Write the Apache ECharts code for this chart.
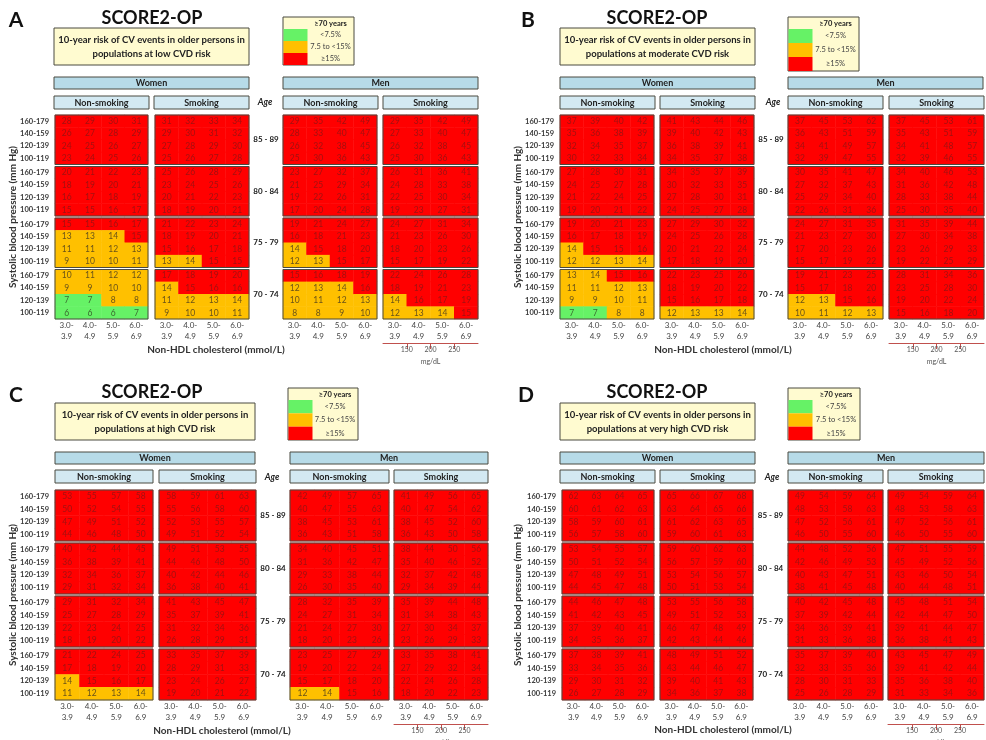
<!DOCTYPE html>
<html><head><meta charset="utf-8">
<script src="https://cdn.jsdelivr.net/npm/echarts@6/dist/echarts.min.js"></script>
<style>html,body{margin:0;padding:0;background:#fff}#c{width:986px;height:740px}</style>
</head><body><div id="c"></div>
<script>
// ---------- tick labels / categories ----------
const bpLabels = ['100-119','120-139','140-159','160-179'];           // bottom -> top
const cholLabels = ['3.0-\n3.9','4.0-\n4.9','5.0-\n5.9','6.0-\n6.9'];
const ageGroups = ['85 - 89','80 - 84','75 - 79','70 - 74'];
const mgdlTicks = [150, 200, 250];
const groupNames = ['Non-smoking','Smoking','Non-smoking','Smoking'];
const riskNames = ['low CVD risk','moderate CVD risk','high CVD risk','very high CVD risk'];
const panelLetters = ['A','B','C','D'];

// ---------- data (rows top->bottom: 85-89 [160-179..100-119], 80-84, 75-79, 70-74) ----------
const lowWomenNS = [[28,29,30,31],[26,27,28,29],[24,25,26,27],[23,24,25,26],
  [20,21,22,23],[18,19,20,21],[16,17,18,19],[15,15,16,17],
  [15,15,16,17],[13,13,14,15],[11,11,12,13],[9,10,10,11],
  [10,11,12,12],[9,9,10,10],[7,7,8,8],[6,6,6,7]];
const lowWomenS = [[31,32,33,34],[29,30,31,32],[27,28,29,30],[25,26,27,28],
  [25,26,28,29],[23,24,25,26],[20,21,22,23],[18,19,20,21],
  [21,22,23,24],[18,19,20,21],[15,16,17,18],[13,14,15,15],
  [17,18,19,20],[14,15,16,16],[11,12,13,14],[9,10,10,11]];
const lowMenNS = [[29,35,42,49],[28,33,40,47],[26,32,38,45],[25,30,36,43],
  [23,27,32,37],[21,25,29,34],[19,22,26,31],[17,20,24,28],
  [19,21,24,27],[16,18,21,23],[14,15,18,20],[12,13,15,17],
  [15,16,18,19],[12,13,14,16],[10,11,12,13],[8,8,9,10]];
const lowMenS = [[29,35,42,49],[27,33,40,47],[26,32,38,45],[25,30,36,43],
  [26,31,36,41],[24,28,33,38],[22,25,30,34],[19,23,27,31],
  [24,27,31,34],[21,23,26,30],[18,20,23,26],[15,17,19,22],
  [22,24,26,28],[18,19,21,23],[14,16,17,19],[12,13,14,15]];

const modWomenNS = [[37,39,40,42],[35,36,38,39],[32,34,35,37],[30,32,33,34],
  [27,28,30,31],[24,25,27,28],[21,22,24,25],[19,20,21,22],
  [19,20,21,23],[16,17,18,19],[14,15,15,16],[12,12,13,14],
  [13,14,15,16],[11,11,12,13],[9,9,10,11],[7,7,8,8]];
const modWomenS = [[41,43,44,46],[39,40,42,43],[36,38,39,41],[34,35,37,38],
  [34,35,37,39],[30,32,33,35],[27,28,30,31],[24,25,27,28],
  [27,29,30,32],[24,25,26,28],[20,21,22,24],[17,18,19,20],
  [22,23,25,26],[18,19,20,22],[15,16,17,18],[12,13,13,14]];
const modMenNS = [[37,45,53,62],[36,43,51,59],[34,41,49,57],[32,39,47,55],
  [30,35,41,47],[27,32,37,43],[25,29,34,40],[22,26,31,36],
  [24,27,31,35],[21,23,27,30],[17,20,23,26],[15,17,19,22],
  [19,21,23,25],[15,17,18,20],[12,13,15,16],[10,11,12,13]];
const modMenS = [[37,45,53,61],[35,43,51,59],[34,41,48,57],[32,39,46,55],
  [34,40,46,53],[31,36,42,48],[28,33,38,44],[25,30,35,40],
  [31,35,39,44],[27,30,34,38],[23,26,29,33],[19,22,25,29],
  [28,31,34,36],[23,25,28,30],[19,20,22,24],[15,16,18,20]];

const highWomenNS = [[53,55,57,58],[50,52,54,55],[47,49,51,52],[44,46,48,50],
  [40,42,44,45],[36,38,39,41],[32,34,36,37],[29,31,32,34],
  [29,31,32,34],[25,27,28,29],[22,23,24,25],[18,19,20,22],
  [21,22,24,25],[17,18,19,20],[14,15,16,17],[11,12,13,14]];
const highWomenS = [[58,59,61,63],[55,56,58,60],[52,53,55,57],[49,51,52,54],
  [49,51,53,55],[44,46,48,50],[40,42,44,46],[36,38,40,41],
  [41,43,45,47],[35,37,39,41],[31,32,34,36],[26,28,29,31],
  [33,35,37,39],[28,29,31,33],[23,24,26,27],[19,20,21,22]];
const highMenNS = [[42,49,57,65],[40,47,55,63],[38,45,53,61],[36,43,51,58],
  [34,40,45,51],[31,36,42,47],[29,33,38,44],[26,30,35,40],
  [28,32,35,39],[24,27,31,34],[21,24,27,30],[18,20,23,26],
  [23,25,27,29],[19,20,22,24],[15,17,18,20],[12,14,15,16]];
const highMenS = [[41,49,56,65],[40,47,54,62],[38,45,52,60],[36,43,50,58],
  [38,44,50,56],[35,40,46,52],[32,37,42,48],[29,34,39,44],
  [35,39,44,48],[31,34,38,43],[27,30,34,37],[23,26,29,33],
  [33,35,38,41],[27,29,32,34],[22,24,26,28],[18,20,22,23]];

const vhighWomenNS = [[62,63,64,65],[60,61,62,63],[58,59,60,61],[56,57,58,60],
  [53,54,55,57],[50,51,52,54],[47,48,49,51],[44,45,47,48],
  [44,46,47,48],[41,42,43,45],[37,39,40,41],[34,35,36,37],
  [37,38,39,41],[33,34,35,36],[29,30,31,32],[26,27,28,29]];
const vhighWomenS = [[65,66,67,68],[63,64,65,66],[61,62,63,65],[59,60,61,63],
  [59,60,62,63],[56,57,59,60],[53,54,56,57],[50,51,53,54],
  [53,55,56,58],[49,51,52,53],[46,47,48,49],[42,43,44,46],
  [48,49,51,52],[43,44,46,47],[39,40,41,43],[34,36,37,38]];
const vhighMenNS = [[49,54,59,64],[48,53,58,63],[47,52,56,61],[46,50,55,60],
  [44,48,52,56],[42,46,49,53],[40,43,47,51],[38,41,45,48],
  [40,42,45,48],[37,39,42,44],[34,36,39,41],[31,33,36,38],
  [35,37,39,40],[32,33,35,36],[28,30,31,33],[25,26,28,29]];
const vhighMenS = [[49,54,59,64],[48,53,58,63],[47,52,56,61],[46,50,55,60],
  [47,51,55,59],[45,49,52,56],[43,46,50,54],[40,44,48,51],
  [45,48,51,54],[42,44,47,50],[39,41,44,47],[36,38,41,43],
  [43,45,47,49],[39,41,42,44],[35,36,38,40],[31,33,34,36]];

const panelData = [
  [lowWomenNS, lowWomenS, lowMenNS, lowMenS],
  [modWomenNS, modWomenS, modMenNS, modMenS],
  [highWomenNS, highWomenS, highMenNS, highMenS],
  [vhighWomenNS, vhighWomenS, vhighMenNS, vhighMenS]
];

// ---------- layout (pixels) ----------
const layouts = [
  { letterXY:[16,20], titleXY:[152,18], subBox:[54,28,195,37], legendBox:[283,17,71,48],
    womenBar:[54,77,195,12], menBar:[283,77,195,12],
    subBars:[[54,96,95,13],[154,96,95,13],[283,96,95,13],[383,96,95,13]], ageXY:[265,102],
    gridX:[[55,148],[155,249],[283,377],[383,478]], gridY:[115,319], yTitleX:13, xTitleXY:[216,350], mgY:343 },
  { letterXY:[528,20], titleXY:[657,18], subBox:[560,28,195,37], legendBox:[788,17,71,54],
    womenBar:[560,77,195,12], menBar:[788,77,195,12],
    subBars:[[560,96,95,13],[660,96,95,13],[788,96,95,13],[889,96,95,13]], ageXY:[773,102],
    gridX:[[560,654],[660,754],[788,883],[889,984]], gridY:[115,319], yTitleX:518, xTitleXY:[723,350], mgY:343 },
  { letterXY:[16,395], titleXY:[152,392], subBox:[55,403,200,37], legendBox:[288,388,70,52],
    womenBar:[55,452,200,12], menBar:[290,452,198,12],
    subBars:[[55,470,98,13],[159,470,97,13],[290,470,99,13],[394,470,94,13]], ageXY:[272,477],
    gridX:[[55,153],[159,256],[290,389],[394,488]], gridY:[490,700], yTitleX:13, xTitleXY:[222,731], mgY:724 },
  { letterXY:[526,395], titleXY:[657,392], subBox:[560,403,195,37], legendBox:[788,388,72,52],
    womenBar:[560,452,195,12], menBar:[788,452,196,12],
    subBars:[[560,470,95,13],[660,470,95,13],[788,470,95,13],[888,470,96,13]], ageXY:[772,477],
    gridX:[[562,654],[660,753],[788,883],[888,984]], gridY:[490,700], yTitleX:518, xTitleXY:[723,730], mgY:724 }
];

// ---------- styles ----------
const FONT = 'Lato, "Open Sans", "DejaVu Sans", sans-serif';
const RED = '#ff0000', ORANGE = '#ffc000', GREEN = '#66f266';
const TXT_RED = '#a31010', TXT_OR = '#6b5418', TXT_GR = '#3b6b30';
const BORDER = '#4a4a40';
const YELLOW = '#fffbd0', BLUE1 = '#b7dbe8', BLUE2 = '#d3e9f2';
const MG_RED = '#c0504d';

const grids = [], xAxes = [], yAxes = [], series = [], gfx = [];
function txt(x, y, text, font, fill, align, extra) {
  return Object.assign({ type:'text', x, y, z:100, silent:true,
    style:{ text, font, fill: fill || '#000', align: align || 'center', verticalAlign:'middle' } }, extra || {});
}
function rect(x, y, w, h, fill, stroke) {
  return { type:'rect', z:90, silent:true, shape:{x, y, width:w, height:h},
    style:{ fill, stroke: stroke || BORDER, lineWidth:1 } };
}

layouts.forEach((L, pi) => {
  gfx.push(txt(L.letterXY[0], L.letterXY[1], panelLetters[pi], 'bold 21px ' + FONT, '#111'));
  gfx.push(txt(L.titleXY[0], L.titleXY[1], 'SCORE2-OP', 'bold 18px ' + FONT, '#111'));
  const sb = L.subBox;
  gfx.push(rect(sb[0], sb[1], sb[2], sb[3], YELLOW));
  gfx.push(txt(sb[0] + sb[2]/2, sb[1] + sb[3]*0.33, '10-year risk of CV events in older persons in', 'bold 9.5px ' + FONT, '#222'));
  gfx.push(txt(sb[0] + sb[2]/2, sb[1] + sb[3]*0.70, 'populations at ' + riskNames[pi], 'bold 9.5px ' + FONT, '#222'));
  const lb = L.legendBox;
  gfx.push(rect(lb[0], lb[1], lb[2], lb[3], YELLOW));
  const hh = 12, rh = (lb[3] - hh) / 3, sw = 24;
  const tx = lb[0] + sw + (lb[2] - sw) / 2;
  gfx.push(txt(tx, lb[1] + hh/2 + 0.5, '\u226570 years', 'bold 7.5px ' + FONT, '#222'));
  [[GREEN,'<7.5%'],[ORANGE,'7.5 to <15%'],[RED,'\u226515%']].forEach((it, k) => {
    const yy = lb[1] + hh + k*rh;
    gfx.push({ type:'rect', z:91, silent:true, shape:{x:lb[0]+0.5, y:yy, width:sw, height:rh}, style:{fill:it[0]} });
    gfx.push(txt(tx, yy + rh/2, it[1], '7.5px ' + FONT, '#444'));
  });
  [[L.womenBar,'Women'],[L.menBar,'Men']].forEach(b => {
    const r = b[0];
    gfx.push(rect(r[0], r[1], r[2], r[3], BLUE1));
    gfx.push(txt(r[0] + r[2]/2, r[1] + r[3]/2 + 0.5, b[1], 'bold 9px ' + FONT, '#222'));
  });
  L.subBars.forEach((r, k) => {
    gfx.push(rect(r[0], r[1], r[2], r[3], BLUE2));
    gfx.push(txt(r[0] + r[2]/2, r[1] + r[3]/2 + 0.5, groupNames[k], 'bold 9px ' + FONT, '#222'));
  });
  gfx.push(txt(L.ageXY[0], L.ageXY[1], 'Age', 'italic bold 9px ' + FONT, '#222'));

  const gap = 2;
  const H = L.gridY[1] - L.gridY[0];
  const bh = (H - 3*gap) / 4;
  const ageX = (L.gridX[1][1] + L.gridX[2][0]) / 2;
  for (let a = 0; a < 4; a++) {
    const top = L.gridY[0] + a*(bh + gap);
    gfx.push(txt(ageX, top + bh/2, ageGroups[a], 'bold 8px ' + FONT, '#222'));
  }
  gfx.push(txt(L.yTitleX, (L.gridY[0] + L.gridY[1]) / 2, 'Systolic blood pressure (mm Hg)', 'bold 10px ' + FONT, '#333', 'center', { rotation: Math.PI/2 }));
  gfx.push(txt(L.xTitleXY[0], L.xTitleXY[1], 'Non-HDL cholesterol (mmol/L)', 'bold 10px ' + FONT, '#333'));

  panelData[pi].forEach((arr, gi) => {
    const [x0, x1] = L.gridX[gi];
    for (let a = 0; a < 4; a++) {
      const top = L.gridY[0] + a*(bh + gap);
      const idx = grids.length;
      grids.push({ left:x0, top, width:x1 - x0, height:bh, show:true, z:5,
        backgroundColor:'transparent', borderColor:BORDER, borderWidth:1,
        containLabel:false, outerBoundsMode:'none' });
      xAxes.push({ type:'category', gridIndex:idx, data:cholLabels, show: a === 3,
        axisLine:{show:false}, axisTick:{show:false}, splitLine:{show:false},
        axisLabel:{ interval:0, fontSize:8, lineHeight:11, color:'#444', margin:1, fontFamily:FONT } });
      yAxes.push({ type:'category', gridIndex:idx, data:bpLabels, show: gi === 0,
        axisLine:{show:false}, axisTick:{show:false}, splitLine:{show:false},
        axisLabel:{ interval:0, fontSize:7.5, fontWeight:'bold', color:'#3a3a3a', margin:6, fontFamily:FONT } });
      const d = [];
      for (let r = 0; r < 4; r++) for (let c = 0; c < 4; c++) {
        const v = arr[a*4 + r][c];
        const tc = v >= 15 ? TXT_RED : (v >= 7.5 ? TXT_OR : TXT_GR);
        d.push({ value:[c, 3 - r, v], label:{ color: tc } });
      }
      series.push({ type:'heatmap', xAxisIndex:idx, yAxisIndex:idx, data:d, z:2,
        itemStyle:{ borderWidth:0 }, emphasis:{ disabled:true },
        label:{ show:true, fontSize:8.5, fontFamily:FONT } });
    }
  });

  const [mx0, mx1] = L.gridX[3];
  const gidx = grids.length;
  grids.push({ left:mx0, top:L.mgY - 1, width:mx1 - mx0, height:1, show:false, containLabel:false, outerBoundsMode:'none' });
  xAxes.push({ type:'value', gridIndex:gidx, min:100, max:300, interval:50, position:'bottom',
    axisLine:{ show:true, lineStyle:{ color:MG_RED, width:1 } },
    axisTick:{ show:true, length:6, customValues:mgdlTicks, lineStyle:{ color:MG_RED } },
    axisLabel:{ show:true, customValues:mgdlTicks, fontSize:7, color:'#555', margin:3, fontFamily:FONT,
      formatter: v => (mgdlTicks.indexOf(v) >= 0 ? String(v) : '') },
    splitLine:{show:false}, name:'mg/dL', nameLocation:'middle', nameGap:15,
    nameTextStyle:{ fontSize:7, color:'#555', fontFamily:FONT } });
  yAxes.push({ type:'value', gridIndex:gidx, show:false });
});

const option = {
  animation:false,
  backgroundColor:'#fff',
  textStyle:{ fontFamily:FONT },
  visualMap:{ show:false, type:'piecewise', dimension:2, seriesIndex: series.map((s, i) => i),
    pieces:[ { lt:7.5, color:GREEN }, { gte:7.5, lt:15, color:ORANGE }, { gte:15, color:RED } ] },
  grid:grids, xAxis:xAxes, yAxis:yAxes, series,
  graphic:{ elements:gfx }
};
const chart = echarts.init(document.getElementById('c'), null, { renderer:'canvas' });
chart.setOption(option);
</script></body></html>
